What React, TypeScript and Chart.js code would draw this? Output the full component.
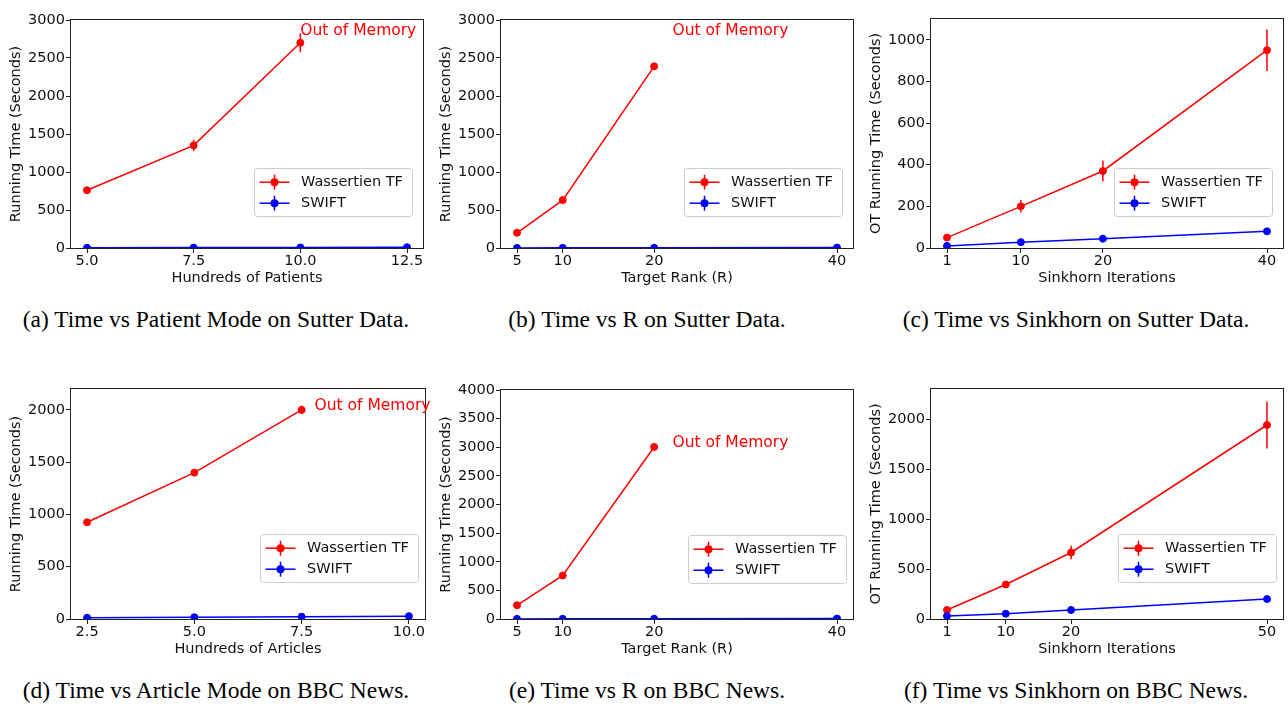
import React, { useEffect, useRef } from 'react';
import { Chart, registerables } from 'chart.js';

Chart.register(...registerables);

const SANS = '"DejaVu Sans", "Liberation Sans", sans-serif';
const SERIF = '"Liberation Serif", "Times New Roman", serif';
const RED = '#ff0000';
const BLUE = '#0000ff';
const INK = '#111111';
const FS = 14.5;

// ---------------- Data ----------------
const seriesNames = ['Wassertien TF', 'SWIFT'];

// (a) Sutter, patient mode
const patientsX = [5.0, 7.5, 10.0, 12.5];
const patientsTickLabels = ['5.0', '7.5', '10.0', '12.5'];
const wtfA = [760, 1350, 2700];
const wtfErrA = [25, 75, 125];
const swiftA = [3, 5, 7, 10];
const swiftErrA = [1, 1, 1, 1];

// (b) Sutter, target rank
const rankX = [5, 10, 20, 40];
const rankTickLabels = ['5', '10', '20', '40'];
const wtfB = [200, 630, 2390];
const wtfErrB = [10, 20, 30];
const swiftB = [1, 2, 3, 5];
const swiftErrB = [1, 1, 1, 1];

// (c) Sutter, sinkhorn iterations
const sinkXC = [1, 10, 20, 40];
const sinkTickLabelsC = ['1', '10', '20', '40'];
const wtfC = [50, 200, 370, 950];
const wtfErrC = [8, 30, 50, 100];
const swiftC = [10, 28, 45, 80];
const swiftErrC = [2, 3, 4, 5];

// (d) BBC, article mode
const articlesX = [2.5, 5.0, 7.5, 10.0];
const articlesTickLabels = ['2.5', '5.0', '7.5', '10.0'];
const wtfD = [925, 1400, 2000];
const wtfErrD = [15, 20, 40];
const swiftD = [12, 17, 22, 27];
const swiftErrD = [2, 2, 2, 2];

// (e) BBC, target rank
const wtfE = [240, 760, 3005];
const wtfErrE = [15, 25, 30];
const swiftE = [2, 3, 5, 8];
const swiftErrE = [1, 1, 1, 1];

// (f) BBC, sinkhorn iterations
const sinkXF = [1, 10, 20, 50];
const sinkTickLabelsF = ['1', '10', '20', '50'];
const wtfF = [90, 345, 665, 1940];
const wtfErrF = [10, 20, 67, 235];
const swiftF = [30, 53, 90, 200];
const swiftErrF = [3, 4, 5, 8];

// y tick values
const yTicks3000 = [0, 500, 1000, 1500, 2000, 2500, 3000];
const yTicks1000 = [0, 200, 400, 600, 800, 1000];
const yTicks2000 = [0, 500, 1000, 1500, 2000];
const yTicks4000 = [0, 500, 1000, 1500, 2000, 2500, 3000, 3500, 4000];

const oomText = 'Out of Memory';
const oomA = [10.0, 2800];
const oomB = [22, 2800];
const oomD = [7.8, 2000];
const oomE = [22, 3000];

const captions = [
  '(a) Time vs Patient Mode on Sutter Data.',
  '(b) Time vs R on Sutter Data.',
  '(c) Time vs Sinkhorn on Sutter Data.',
  '(d) Time vs Article Mode on BBC News.',
  '(e) Time vs R on BBC News.',
  '(f) Time vs Sinkhorn on BBC News.',
];

// ---------------- Panel configuration ----------------
type PanelCfg = {
  cx: number; cy: number; cw: number; ch: number;
  area: { l: number; t: number; r: number; b: number };
  xMin: number; xMax: number; xTicks: number[]; xTickLabels: string[];
  yMax: number; yTicks: number[];
  xTitle: string; yTitle: string;
  xs: number[];
  wtf: number[]; wtfErr: number[];
  swift: number[]; swiftErr: number[];
  legend: { r: number; b: number };
  oom?: number[];
};

const XAXIS_H = 39;

const panels: PanelCfg[] = [
  {
    cx: 0, cy: 0, cw: 440, ch: 300, area: { l: 71, t: 20, r: 423, b: 248 },
    xMin: 4.625, xMax: 12.875, xTicks: patientsX, xTickLabels: patientsTickLabels,
    yMax: 3000, yTicks: yTicks3000,
    xTitle: 'Hundreds of Patients', yTitle: 'Running Time (Seconds)',
    xs: patientsX, wtf: wtfA, wtfErr: wtfErrA, swift: swiftA, swiftErr: swiftErrA,
    legend: { r: 11, b: 32 }, oom: oomA,
  },
  {
    cx: 430, cy: 0, cw: 430, ch: 300, area: { l: 501, t: 20, r: 853, b: 248 },
    xMin: 3.25, xMax: 41.75, xTicks: rankX, xTickLabels: rankTickLabels,
    yMax: 3000, yTicks: yTicks3000,
    xTitle: 'Target Rank (R)', yTitle: 'Running Time (Seconds)',
    xs: rankX, wtf: wtfB, wtfErr: wtfErrB, swift: swiftB, swiftErr: swiftErrB,
    legend: { r: 11, b: 32 }, oom: oomB,
  },
  {
    cx: 860, cy: 0, cw: 428, ch: 300, area: { l: 931, t: 19, r: 1285, b: 248 },
    xMin: -0.95, xMax: 41.95, xTicks: sinkXC, xTickLabels: sinkTickLabelsC,
    yMax: 1100, yTicks: yTicks1000,
    xTitle: 'Sinkhorn Iterations', yTitle: 'OT Running Time (Seconds)',
    xs: sinkXC, wtf: wtfC, wtfErr: wtfErrC, swift: swiftC, swiftErr: swiftErrC,
    legend: { r: 11, b: 32 },
  },
  {
    cx: 0, cy: 370, cw: 440, ch: 300, area: { l: 71, t: 389, r: 425, b: 619 },
    xMin: 2.125, xMax: 10.375, xTicks: articlesX, xTickLabels: articlesTickLabels,
    yMax: 2200, yTicks: yTicks2000,
    xTitle: 'Hundreds of Articles', yTitle: 'Running Time (Seconds)',
    xs: articlesX, wtf: wtfD, wtfErr: wtfErrD, swift: swiftD, swiftErr: swiftErrD,
    legend: { r: 7, b: 37 }, oom: oomD,
  },
  {
    cx: 430, cy: 370, cw: 430, ch: 300, area: { l: 501, t: 390, r: 853, b: 619 },
    xMin: 3.25, xMax: 41.75, xTicks: rankX, xTickLabels: rankTickLabels,
    yMax: 4000, yTicks: yTicks4000,
    xTitle: 'Target Rank (R)', yTitle: 'Running Time (Seconds)',
    xs: rankX, wtf: wtfE, wtfErr: wtfErrE, swift: swiftE, swiftErr: swiftErrE,
    legend: { r: 7, b: 36 }, oom: oomE,
  },
  {
    cx: 860, cy: 370, cw: 428, ch: 300, area: { l: 931, t: 389, r: 1285, b: 619 },
    xMin: -1.45, xMax: 52.45, xTicks: sinkXF, xTickLabels: sinkTickLabelsF,
    yMax: 2300, yTicks: yTicks2000,
    xTitle: 'Sinkhorn Iterations', yTitle: 'OT Running Time (Seconds)',
    xs: sinkXF, wtf: wtfF, wtfErr: wtfErrF, swift: swiftF, swiftErr: swiftErrF,
    legend: { r: 7, b: 37 },
  },
];

const captionCenters = [216, 647, 1076, 216, 647, 1076];
const captionBaselines = [327.7, 327.7, 327.7, 698.3, 698.3, 698.3];

// ---------------- Drawing helpers ----------------
function makeDecor(p: PanelCfg) {
  return {
    id: 'decor',
    beforeDatasetsDraw(chart: any) {
      const ctx = chart.ctx as CanvasRenderingContext2D;
      const xs = chart.scales.x;
      const ys = chart.scales.y;
      const a = chart.chartArea;
      ctx.save();
      ctx.beginPath();
      ctx.rect(a.left, a.top, a.right - a.left, a.bottom - a.top);
      ctx.clip();
      chart.data.datasets.forEach((ds: any) => {
        const errs: number[] = ds.errors || [];
        ctx.strokeStyle = ds.borderColor;
        ctx.lineWidth = 1.5;
        ds.data.forEach((pt: any, i: number) => {
          const e = errs[i] || 0;
          if (!e) return;
          const px = xs.getPixelForValue(pt.x);
          ctx.beginPath();
          ctx.moveTo(px, ys.getPixelForValue(pt.y - e));
          ctx.lineTo(px, ys.getPixelForValue(pt.y + e));
          ctx.stroke();
        });
      });
      ctx.restore();
    },
    afterDraw(chart: any) {
      const ctx = chart.ctx as CanvasRenderingContext2D;
      const a = chart.chartArea;
      const xs = chart.scales.x;
      const ys = chart.scales.y;
      ctx.save();
      // spines
      ctx.strokeStyle = '#222222';
      ctx.lineWidth = 1;
      const L = Math.round(a.left) - 0.5;
      const T = Math.round(a.top) - 0.5;
      const R = Math.round(a.right) + 0.5;
      const B = Math.round(a.bottom) + 0.5;
      ctx.strokeRect(L, T, R - L, B - T);

      // annotation
      if (p.oom) {
        ctx.fillStyle = RED;
        ctx.font = `15.5px ${SANS}`;
        ctx.textAlign = 'left';
        ctx.textBaseline = 'alphabetic';
        ctx.fillText(oomText, xs.getPixelForValue(p.oom[0]), ys.getPixelForValue(p.oom[1]));
      }

      // legend
      const lw = 158, lh = 48;
      const lx = Math.round(a.right - p.legend.r - lw) + 0.5;
      const ly = Math.round(a.bottom - p.legend.b - lh) + 0.5;
      ctx.beginPath();
      if ((ctx as any).roundRect) (ctx as any).roundRect(lx, ly, lw, lh, 3);
      else ctx.rect(lx, ly, lw, lh);
      ctx.fillStyle = 'rgba(255,255,255,0.85)';
      ctx.fill();
      ctx.strokeStyle = '#cccccc';
      ctx.lineWidth = 1;
      ctx.stroke();
      chart.data.datasets.forEach((ds: any, i: number) => {
        const cy = ly + 13.7 + i * 21;
        const color = ds.borderColor;
        ctx.strokeStyle = color;
        ctx.fillStyle = color;
        ctx.lineWidth = 1.5;
        ctx.beginPath();
        ctx.moveTo(lx + 5, cy);
        ctx.lineTo(lx + 35, cy);
        ctx.stroke();
        ctx.beginPath();
        ctx.moveTo(lx + 20, cy - 7.5);
        ctx.lineTo(lx + 20, cy + 7.5);
        ctx.stroke();
        ctx.beginPath();
        ctx.arc(lx + 20, cy, 4, 0, Math.PI * 2);
        ctx.fill();
        ctx.fillStyle = INK;
        ctx.font = `${FS}px ${SANS}`;
        ctx.textAlign = 'left';
        ctx.textBaseline = 'middle';
        ctx.fillText(ds.label, lx + 46.5, cy + 0.5);
      });
      ctx.restore();
    },
  };
}

function PanelChart({ p }: { p: PanelCfg }) {
  const ref = useRef<HTMLCanvasElement>(null);
  useEffect(() => {
    const canvas = ref.current;
    if (!canvas) return;
    const yAxisW = p.area.l - p.cx - 8;
    const font = { family: SANS, size: FS };
    const chart = new Chart(canvas, {
      type: 'line',
      data: {
        datasets: [
          {
            label: seriesNames[0],
            data: p.wtf.map((v, i) => ({ x: p.xs[i], y: v })),
            errors: p.wtfErr,
            borderColor: RED,
            backgroundColor: RED,
            pointBackgroundColor: RED,
            pointBorderColor: RED,
            borderWidth: 1.5,
            pointRadius: 3.5,
            pointBorderWidth: 1,
            tension: 0,
            fill: false,
            order: 1,
          } as any,
          {
            label: seriesNames[1],
            data: p.swift.map((v, i) => ({ x: p.xs[i], y: v })),
            errors: p.swiftErr,
            borderColor: BLUE,
            backgroundColor: BLUE,
            pointBackgroundColor: BLUE,
            pointBorderColor: BLUE,
            borderWidth: 1.5,
            pointRadius: 3.5,
            pointBorderWidth: 1,
            tension: 0,
            fill: false,
            order: 0,
          } as any,
        ],
      },
      options: {
        animation: false,
        responsive: false,
        devicePixelRatio: 1,
        events: [],
        layout: {
          padding: {
            left: 8,
            top: p.area.t - p.cy,
            right: p.cx + p.cw - p.area.r,
            bottom: p.cy + p.ch - p.area.b - XAXIS_H,
          },
        },
        plugins: {
          legend: { display: false },
          tooltip: { enabled: false },
          title: { display: false },
        },
        scales: {
          x: {
            type: 'linear',
            min: p.xMin,
            max: p.xMax,
            afterBuildTicks: (s: any) => {
              s.ticks = p.xTicks.map((v) => ({ value: v }));
            },
            afterFit: (s: any) => {
              s.height = XAXIS_H;
            },
            ticks: {
              callback: (_v: any, i: number) => p.xTickLabels[i],
              font,
              color: INK,
              padding: 0,
              autoSkip: false,
              maxRotation: 0,
              minRotation: 0,
            },
            grid: {
              display: true,
              drawOnChartArea: false,
              drawTicks: true,
              tickLength: 5,
              tickColor: '#222222',
              color: '#222222',
              lineWidth: 1,
            },
            border: { display: false },
            title: { display: true, text: p.xTitle, font, color: INK, padding: 0 },
          },
          y: {
            type: 'linear',
            min: 0,
            max: p.yMax,
            afterBuildTicks: (s: any) => {
              s.ticks = p.yTicks.map((v) => ({ value: v }));
            },
            afterFit: (s: any) => {
              s.width = yAxisW;
            },
            ticks: {
              callback: (v: any) => String(v),
              font,
              color: INK,
              padding: 1,
              autoSkip: false,
            },
            grid: {
              display: true,
              drawOnChartArea: false,
              drawTicks: true,
              tickLength: 5,
              tickColor: '#222222',
              color: '#222222',
              lineWidth: 1,
            },
            border: { display: false },
            title: { display: true, text: p.yTitle, font, color: INK, padding: 0 },
          },
        },
      } as any,
      plugins: [makeDecor(p)],
    });
    return () => chart.destroy();
  }, [p]);
  return (
    <canvas
      ref={ref}
      width={p.cw}
      height={p.ch}
      style={{ position: 'absolute', left: p.cx, top: p.cy, width: p.cw, height: p.ch }}
    />
  );
}

export default function App() {
  const capSize = 23.5;
  return (
    <div
      style={{
        position: 'absolute',
        left: 0,
        top: 0,
        width: 1288,
        height: 704,
        background: '#ffffff',
        overflow: 'hidden',
      }}
    >
      {panels.map((p, i) => (
        <PanelChart key={i} p={p} />
      ))}
      {captions.map((c, i) => (
        <div
          key={'c' + i}
          style={{
            position: 'absolute',
            left: captionCenters[i] - 240,
            width: 480,
            top: captionBaselines[i] - capSize * 0.8375,
            textAlign: 'center',
            fontFamily: SERIF,
            fontSize: capSize,
            lineHeight: 1,
            color: '#000',
            whiteSpace: 'nowrap',
          }}
        >
          {c}
        </div>
      ))}
    </div>
  );
}
